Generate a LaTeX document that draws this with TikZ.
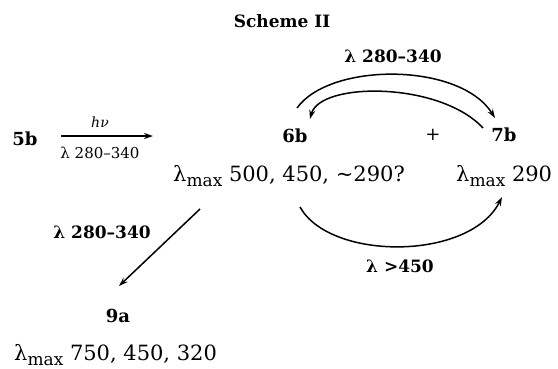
\documentclass[tikz,border=0pt]{standalone}
\usepackage{fontspec}
\setmainfont{DejaVu Serif}
\usetikzlibrary{arrows.meta}
\newcommand{\lmax}{λ\raisebox{-5pt}{\fontsize{17}{17}\selectfont max}}
\tikzset{
  lab/.style={inner sep=0pt, anchor=base},
  cmpd/.style={lab, font=\fontsize{18}{18}\selectfont\bfseries},
  band/.style={lab, font=\fontsize{17}{17}\selectfont\bfseries},
  spec/.style={inner sep=0pt, anchor=base west, font=\fontsize{21}{21}\selectfont},
  arr/.style={-{Stealth[length=9pt,width=6pt]}, line width=1.5pt},
}
\begin{document}
\begin{tikzpicture}[x=1pt,y=-1pt]
\useasboundingbox (0,0) rectangle (558,368);
% title
\node[lab, font=\fontsize{17}{17}\selectfont\bfseries] (title) at (282,27) {Scheme II};
% compounds
\node[cmpd] (5b) at (25,145) {5b};
\node[cmpd] (6b) at (295,142) {6b};
\node[cmpd] (7b) at (504,141) {7b};
\node[cmpd] (9a) at (118,322) {9a};
\node[inner sep=0pt, font=\fontsize{18}{18}\selectfont] (plus) at (433,135) {+};
% spectra
\node[spec] (s6) at (173,181) {\lmax{} 500, 450, \textasciitilde290?};
\node[spec] (s7) at (456,181) {\lmax{} 290};
\node[spec] (s9) at (14,360) {\lmax{} 750, 450, 320};
% first arrow
\coordinate (a0s) at (61,136);
\coordinate (a0e) at (153,136);
\draw[arr] (a0s) -- (a0e);
\node[lab, font=\fontsize{14}{14}\selectfont\itshape] (hv) at (100,127) {hν};
\node[lab, font=\fontsize{15}{15}\selectfont] (l0) at (100,158) {λ 280–340};
% upper arcs between 6b and 7b
\coordinate (u1s) at (297,108);
\coordinate (u1e) at (495,118);
\draw[arr] (u1s) .. controls (330,62) and (460,62) .. (u1e);
\coordinate (u2s) at (483,128);
\coordinate (u2e) at (310,119);
\draw[arr] (u2s) .. controls (440,81.5) and (320,81.5) .. (u2e);
\node[band] (l1) at (393,62) {λ 280–340};
% bottom arc 6b -> 7b
\coordinate (b1s) at (300,207);
\coordinate (b1e) at (502,197);
\draw[arr] (b1s) .. controls (330,261) and (470,261) .. (b1e);
\node[band] (l2) at (400,272) {λ >450};
% down arrow 6b -> 9a
\coordinate (d1s) at (200,209);
\coordinate (d1e) at (119,286);
\draw[arr] (d1s) -- (d1e);
\node[band] (l3) at (102,238) {λ 280–340};
\end{tikzpicture}
\end{document}
